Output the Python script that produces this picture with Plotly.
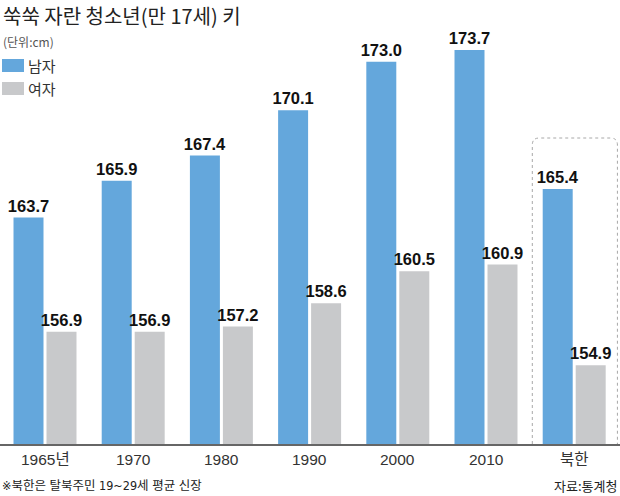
import plotly.graph_objects as go

# ---- data ----
categories = ["1965년", "1970", "1980", "1990", "2000", "2010", "북한"]
male = [163.7, 165.9, 167.4, 170.1, 173.0, 173.7, 165.4]
female = [156.9, 156.9, 157.2, 158.6, 160.5, 160.9, 154.9]
series_names = ["남자", "여자"]
title_text = "쑥쑥 자란 청소년(만 17세) 키"
unit_text = "(단위:cm)"
note_text = "※북한은 탈북주민 19~29세 평균 신장"
source_text = "자료:통계청"

# ---- style ----
W, H = 620, 496
M_T, M_B = 40, 52
BLUE = "#64A7DC"
GRAY = "#C8C9CB"
LAT = "Liberation Sans, Arial, Noto Sans CJK KR, sans-serif"
NARROW = "Liberation Sans Narrow, DejaVu Sans Condensed, Noto Sans CJK KR, sans-serif"
KR = "Noto Sans CJK KR, sans-serif"
Y0 = 150.2
PX_PER_UNIT = 16.77
PLOT_H = H - M_T - M_B
Y1 = Y0 + PLOT_H / PX_PER_UNIT
X_PX_PER_UNIT = 88.2
X_FIRST = 45.0
XR = [-X_FIRST / X_PX_PER_UNIT, (W - X_FIRST) / X_PX_PER_UNIT]


def pxx(x):
    return x / W


def pxy(y):
    return (H - M_B - y) / PLOT_H


idx = list(range(len(categories)))

fig = go.Figure()
for name, vals, col in [(series_names[0], male, BLUE), (series_names[1], female, GRAY)]:
    fig.add_trace(go.Bar(
        x=idx, y=vals, name=name, marker=dict(color=col, line=dict(width=0)),
        text=[f"{v:.1f}" for v in vals], textposition="outside", constraintext="none",
        textfont=dict(family=LAT, size=16.5, color="#111", weight="bold"),
        cliponaxis=False, hoverinfo="skip",
    ))

annotations = []
# category labels
for i, c in zip(idx, categories):
    annotations.append(dict(x=i, y=0, xref="x", yref="paper", text=c, showarrow=False,
                            xanchor="center", yanchor="middle", yshift=-15,
                            font=dict(family=LAT, size=15.5, color="#333")))
# title and unit
annotations.append(dict(x=pxx(1), y=pxy(16), xref="paper", yref="paper", text=title_text,
                        showarrow=False, xanchor="left", yanchor="middle",
                        font=dict(family=KR, size=20, color="#222")))
annotations.append(dict(x=pxx(1), y=pxy(41), xref="paper", yref="paper", text=unit_text,
                        showarrow=False, xanchor="left", yanchor="middle",
                        font=dict(family=KR, size=12, color="#555")))
# legend
shapes = []
for k, (name, col, yc) in enumerate([(series_names[0], BLUE, 65.5), (series_names[1], GRAY, 88.5)]):
    shapes.append(dict(type="rect", xref="paper", yref="paper",
                       x0=pxx(2), x1=pxx(24), y0=pxy(yc - 6.5), y1=pxy(yc + 6.5),
                       fillcolor=col, line=dict(width=0)))
    annotations.append(dict(x=pxx(26), y=pxy(yc), xref="paper", yref="paper", text=name,
                            showarrow=False, xanchor="left", yanchor="middle",
                            font=dict(family=KR, size=15, color="#333")))
# footnote & source
annotations.append(dict(x=pxx(0), y=pxy(485), xref="paper", yref="paper", text=note_text,
                        showarrow=False, xanchor="left", yanchor="middle",
                        font=dict(family=NARROW, size=12.5, color="#222")))
annotations.append(dict(x=pxx(619), y=pxy(485), xref="paper", yref="paper", text=source_text,
                        showarrow=False, xanchor="right", yanchor="middle",
                        font=dict(family=KR, size=13, color="#222")))

# dotted rounded box around 북한
nk = idx[-1]
xl, xr = nk - 0.475, nk + 0.49
yt = Y0 + (H - M_B - 138) / PX_PER_UNIT
yb = Y0
dx, dy = 7 / X_PX_PER_UNIT, 7 / PX_PER_UNIT
path = (f"M {xl},{yb} L {xl},{yt-dy} Q {xl},{yt} {xl+dx},{yt} "
        f"L {xr-dx},{yt} Q {xr},{yt} {xr},{yt-dy} L {xr},{yb}")
shapes.append(dict(type="path", xref="x", yref="y", path=path,
                   line=dict(color="#A8A8A8", width=1, dash="dot"), layer="below"))

fig.update_layout(
    width=W, height=H, margin=dict(l=0, r=0, t=M_T, b=M_B, pad=0),
    paper_bgcolor="white", plot_bgcolor="white",
    barmode="group", bargap=0.252, bargroupgap=0.0909,
    showlegend=False,
    xaxis=dict(range=XR, showticklabels=False, showgrid=False, zeroline=False,
               showline=True, linecolor="#666", linewidth=1.5, ticks="", fixedrange=True),
    yaxis=dict(range=[Y0, Y1], visible=False, showgrid=False, zeroline=False),
    annotations=annotations, shapes=shapes,
)

fig.write_html("out.html")
